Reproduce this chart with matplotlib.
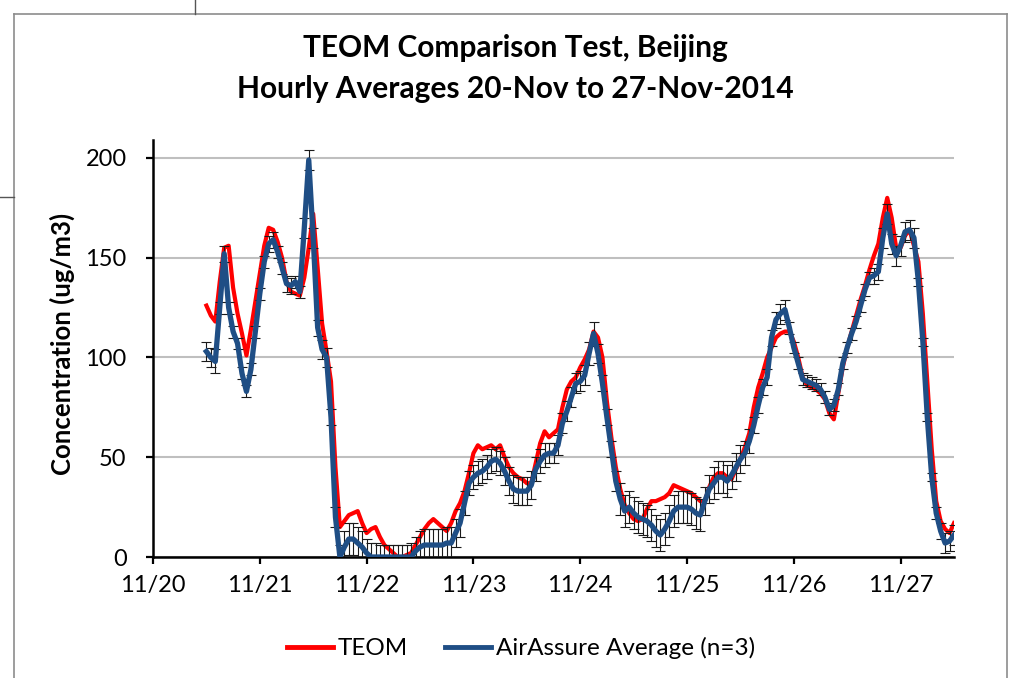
import matplotlib
matplotlib.use("Agg")
import matplotlib.pyplot as plt
from matplotlib.lines import Line2D
import numpy as np

plt.rcParams['font.family'] = ['Lato', 'DejaVu Sans']

# ---- data (hourly, starting 11/20 12:00) ----
day_labels = ['11/20', '11/21', '11/22', '11/23', '11/24', '11/25', '11/26', '11/27']
start_day = 0.5  # 11/20 12:00

teom = [126, 121, 118, 138, 155, 156, 135, 122, 112, 101, 114, 128,
        142, 156, 165, 164, 158, 150, 138, 133, 132, 131, 140, 155,
        172, 145, 117, 103, 88, 45, 15, 18, 21, 22, 23, 17,
        12, 14, 15, 10, 6, 4, 2, 0, 0, 1, 2, 6,
        10, 14, 17, 19, 17, 15, 13, 17, 23, 27, 33, 42,
        52, 56, 54, 55, 56, 54, 56, 50, 45, 42, 40, 39,
        37, 37, 47, 57, 63, 60, 62, 64, 75, 84, 88, 90,
        95, 99, 104, 113, 110, 100, 78, 60, 45, 34, 26, 22,
        19, 18, 19, 24, 28, 28, 29, 30, 32, 36, 35, 34,
        33, 32, 30, 28, 28, 35, 40, 42, 42, 40, 39, 44,
        49, 55, 62, 75, 85, 92, 100, 105, 110, 112, 113, 113,
        108, 100, 90, 86, 85, 84, 82, 79, 72, 69, 82, 95,
        105, 113, 121, 129, 136, 144, 151, 157, 170, 180, 170, 155,
        155, 161, 164, 156, 148, 122, 88, 54, 28, 18, 14, 12,
        17]

airassure = [103, 100, 98, 125, 152, 125, 113, 107, 92, 83, 94, 113,
             132, 148, 157, 159, 153, 145, 137, 136, 138, 133, 165, 199,
             160, 115, 104, 100, 70, 20, 0, 5, 9, 9, 7, 5,
             2, 0, 0, 0, 0, 0, 0, 0, 0, 0, 0, 3,
             5, 6, 6, 6, 6, 6, 7, 7, 12, 17, 27, 37,
             40, 42, 43, 45, 48, 49, 47, 43, 38, 34, 33, 33,
             33, 36, 44, 48, 51, 52, 52, 56, 67, 73, 80, 87,
             88, 91, 102, 112, 102, 87, 70, 54, 38, 29, 23, 25,
             22, 20, 19, 18, 16, 13, 11, 14, 18, 23, 25, 25,
             25, 24, 22, 21, 28, 34, 37, 40, 40, 38, 41, 45,
             49, 52, 58, 66, 76, 85, 90, 110, 119, 122, 124, 115,
             105, 97, 89, 88, 87, 86, 84, 80, 74, 76, 84, 97,
             105, 112, 118, 126, 134, 140, 141, 143, 160, 172, 157, 151,
             156, 163, 164, 160, 138, 108, 70, 40, 22, 13, 7, 8,
             11]

airassure_err = [5, 5, 6, 3, 4, 3, 3, 3, 3, 3, 3, 3,
                 3, 3, 4, 4, 3, 3, 4, 4, 3, 3, 5, 5,
                 5, 4, 5, 5, 4, 5, 6, 8, 8, 8, 8, 8,
                 7, 7, 7, 6, 6, 6, 6, 6, 6, 6, 7, 7,
                 8, 8, 8, 8, 8, 8, 8, 8, 7, 7, 6, 6,
                 6, 6, 6, 6, 6, 6, 6, 7, 7, 7, 7, 7,
                 7, 7, 6, 6, 6, 5, 5, 5, 5, 5, 5, 5,
                 5, 5, 6, 6, 5, 4, 4, 4, 5, 8, 8, 8,
                 8, 8, 8, 8, 8, 8, 8, 8, 8, 8, 8, 8,
                 8, 8, 8, 8, 7, 7, 8, 8, 8, 8, 7, 7,
                 7, 6, 6, 4, 4, 4, 4, 4, 4, 5, 5, 3,
                 3, 3, 3, 3, 3, 3, 3, 3, 3, 3, 3, 3,
                 3, 3, 3, 3, 3, 3, 4, 4, 5, 5, 5, 5,
                 5, 5, 5, 5, 2, 2, 2, 2, 3, 4, 5, 5,
                 5]

x = start_day + np.arange(len(teom)) / 24.0

W, H = 1017, 678
fig = plt.figure(figsize=(W / 100, H / 100), dpi=100)
ax = fig.add_axes([153 / W, 1 - 557 / H, (954 - 153) / W, (557 - 140) / H])

BLUE = '#1F4E85'
ax.plot(x, teom, color='#FF0000', lw=3.0, zorder=2, solid_joinstyle='round',
        label='TEOM')
ax.errorbar(x, airassure, yerr=airassure_err, fmt='none', ecolor='#1a1a1a',
            elinewidth=0.8, capsize=3.5, capthick=0.8, zorder=3)
ax.plot(x, airassure, color=BLUE, lw=3.8, zorder=4, solid_joinstyle='round',
        label='AirAssure Average (n=3)')

ax.set_xlim(0, 7.5)
ax.set_ylim(0, 209)
ax.set_xticks(range(len(day_labels)))
ax.set_xticklabels(day_labels)
ax.set_yticks([0, 50, 100, 150, 200])
ax.yaxis.grid(True, color='#BFBFBF', lw=1.5)
ax.set_axisbelow(True)
for s in ['top', 'right']:
    ax.spines[s].set_visible(False)
for s in ['left', 'bottom']:
    ax.spines[s].set_linewidth(1.8)
    ax.spines[s].set_color('black')
ax.tick_params(axis='both', direction='out', length=5, width=1.6, labelsize=17)
ax.tick_params(axis='y', pad=14)
ax.tick_params(axis='x', pad=8)

fig.text(62 / W, 1 - 344 / H, 'Concentration (ug/m3)', rotation=90, ha='center',
         va='center', fontsize=18.5, fontweight='bold')
fig.text(515 / W, 1 - 48 / H, 'TEOM Comparison Test, Beijing', ha='center', va='center',
         fontsize=21.5, fontweight='bold')
fig.text(515 / W, 1 - 89 / H, 'Hourly Averages 20-Nov to 27-Nov-2014', ha='center',
         va='center', fontsize=21.5, fontweight='bold')

leg = fig.legend(handles=[Line2D([], [], color='#FF0000', lw=3.5),
                          Line2D([], [], color=BLUE, lw=3.5)],
                 labels=['TEOM', 'AirAssure Average (n=3)'],
                 loc='center', bbox_to_anchor=(521 / W, 1 - 648 / H), ncol=2,
                 frameon=False, fontsize=17.5, handlelength=1.9, handletextpad=0.2,
                 columnspacing=1.5)

# chart frame / screenshot edges
def fl(x0, y0, x1, y1, **kw):
    fig.add_artist(Line2D([x0 / W, x1 / W], [1 - y0 / H, 1 - y1 / H],
                          transform=fig.transFigure, **kw))

fl(14, 14, 1007, 14, color='#8C8C8C', lw=1.2)
fl(14, 14, 14, 678, color='#8C8C8C', lw=1.2)
fl(1007, 14, 1007, 678, color='#8C8C8C', lw=1.2)
fl(195, 0, 195, 14, color='#555555', lw=1.0)
fl(0, 197, 14, 197, color='#555555', lw=1.0)

fig.savefig('out.png', dpi=100)
